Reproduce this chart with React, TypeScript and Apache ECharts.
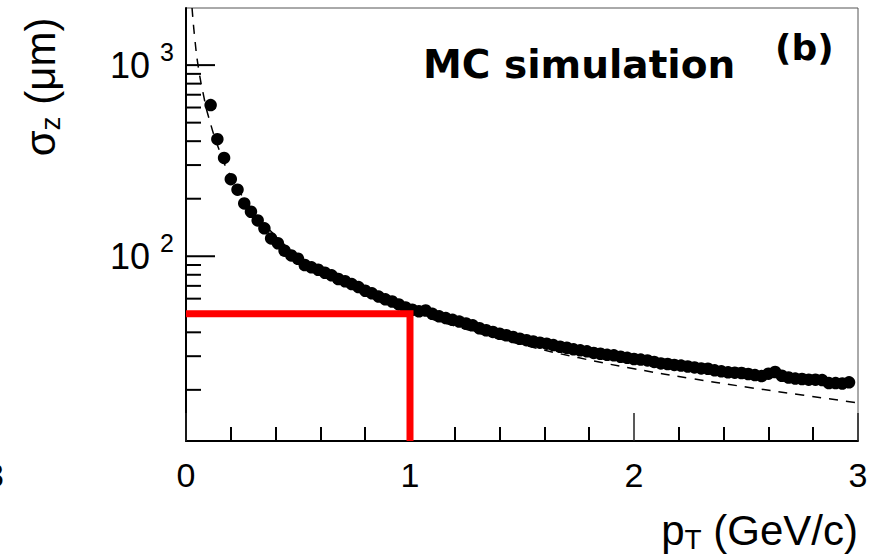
import React, { useEffect, useRef } from "react";
import * as echarts from "echarts";

// Measured points (pT in GeV/c, sigma_z in µm)
const ptValues = [
  0.11, 0.14, 0.17, 0.2, 0.23, 0.26, 0.29, 0.32, 0.35, 0.38,
  0.41, 0.44, 0.47, 0.5, 0.53, 0.56, 0.59, 0.62, 0.65, 0.68,
  0.71, 0.74, 0.77, 0.8, 0.83, 0.86, 0.89, 0.92, 0.95, 0.98,
  1.01, 1.04, 1.07, 1.1, 1.13, 1.16, 1.19, 1.22, 1.25, 1.28,
  1.31, 1.34, 1.37, 1.4, 1.43, 1.46, 1.49, 1.52, 1.55, 1.58,
  1.61, 1.64, 1.67, 1.7, 1.73, 1.76, 1.79, 1.82, 1.85, 1.88,
  1.91, 1.94, 1.97, 2.0, 2.03, 2.06, 2.09, 2.12, 2.15, 2.18,
  2.21, 2.24, 2.27, 2.3, 2.33, 2.36, 2.39, 2.42, 2.45, 2.48,
  2.51, 2.54, 2.57, 2.6, 2.63, 2.66, 2.69, 2.72, 2.75, 2.78,
  2.81, 2.84, 2.87, 2.9, 2.93, 2.96,
];
const sigmaValues = [
  618, 410, 327, 253, 223, 189, 171, 154, 140, 124,
  117, 107, 101, 97, 90, 87.5, 85, 82, 79.5, 76,
  74, 71.5, 69, 66, 64, 61.5, 59.5, 58, 56, 54,
  52.5, 51.5, 52, 50, 48.5, 47.5, 46.5, 45.5, 44.5, 43.5,
  42, 41, 40.2, 39.3, 38.6, 37.8, 37, 36.4, 35.8, 35.3,
  34.9, 34.3, 33.6, 33.2, 32.6, 32.2, 31.8, 31.2, 30.9, 30.5,
  30.3, 29.8, 29.4, 29.0, 28.8, 28.5, 28.0, 27.5, 27.3, 27.0,
  26.8, 26.5, 26.2, 25.9, 25.8, 25.3, 25.0, 24.7, 24.6, 24.5,
  24.2, 23.9, 23.6, 24.3, 24.8, 23.7, 23.2, 22.9, 22.8, 22.6,
  22.6, 22.5, 21.7, 21.7, 21.6, 21.9,
];

// Dashed reference curve
const curvePt = [0.027, 0.04, 0.056, 0.08, 0.1, 0.15, 0.2, 0.3, 0.4, 0.5, 0.75, 1.0, 1.25, 1.5, 1.75, 2.0, 2.25, 2.5, 2.75, 3.0];
const curveSigma = [1990, 1350, 960, 680, 540, 355, 262, 172, 128, 101, 68, 51.5, 41.5, 34.5, 29.5, 25.8, 23.0, 20.7, 18.8, 17.1];

// Red marker lines
const redLinePt = [0, 1, 1];
const redLineSigma = [50, 50, 10.8];

// Axis ranges and ticks
const xMin = 0;
const xMax = 3;
const yMin = 10.8;
const yMax = 1990;
const yMajorTicks = [100, 1000];
const yMinorTicks = [20, 30, 40, 50, 60, 70, 80, 90, 200, 300, 400, 500, 600, 700, 800, 900];

const FONT = "'Liberation Sans', Arial, sans-serif";

export default function App() {
  const ref = useRef<HTMLDivElement>(null);

  useEffect(() => {
    if (!ref.current) return;
    const chart = echarts.init(ref.current, null, { renderer: "svg" });

    const tickData = [
      ...yMajorTicks.map((v) => [0, v, 29]),
      ...yMinorTicks.map((v) => [0, v, 15]),
    ];

    chart.setOption({
      animation: false,
      backgroundColor: "#ffffff",
      grid: {
        left: 186,
        right: 22,
        top: 8,
        bottom: 119,
        show: true,
        borderColor: "#555",
        borderWidth: 1,
        backgroundColor: "transparent",
      },
      xAxis: {
        type: "value",
        min: xMin,
        max: xMax,
        interval: 1,
        axisLine: { show: true, onZero: false, lineStyle: { color: "#000", width: 2 } },
        axisTick: { show: true, inside: true, length: 28, lineStyle: { color: "#222", width: 1.5 } },
        minorTick: { show: true, splitNumber: 5, length: 14, lineStyle: { color: "#000", width: 2 } },
        splitLine: { show: false },
        axisLabel: { color: "#000", fontSize: 34, fontFamily: FONT, margin: 17 },
      },
      yAxis: {
        type: "log",
        logBase: 10,
        min: yMin,
        max: yMax,
        axisLine: { show: true, lineStyle: { color: "#000", width: 2 } },
        axisTick: { show: false },
        minorTick: { show: false },
        splitLine: { show: false },
        axisLabel: {
          margin: 12,
          formatter: (v: number) => {
            const l = Math.log10(v);
            if (Math.abs(l - Math.round(l)) > 1e-6) return "";
            return `{b|10}{s|${Math.round(l)}}`;
          },
          rich: {
            b: { fontSize: 36, fontFamily: FONT, color: "#000", lineHeight: 52, verticalAlign: "middle" },
            s: { fontSize: 25, fontFamily: FONT, color: "#000", lineHeight: 25, verticalAlign: "top", padding: [0, 0, 0, 10] },
          },
        },
      },
      series: [
        {
          type: "custom",
          name: "yticks",
          silent: true,
          data: tickData,
          renderItem: (params: any, api: any) => {
            const p = api.coord([api.value(0), api.value(1)]);
            const len = api.value(2);
            return {
              type: "line",
              shape: { x1: p[0], y1: p[1], x2: p[0] + len, y2: p[1] },
              style: { stroke: "#000", lineWidth: 2 },
            };
          },
          z: 3,
        },
        {
          type: "line",
          name: "fit",
          data: curvePt.map((x, i) => [x, curveSigma[i]]),
          showSymbol: false,
          smooth: true,
          lineStyle: { color: "#000", width: 1.5, type: [9, 8] },
          z: 2,
        },
        {
          type: "scatter",
          name: "MC",
          data: ptValues.map((x, i) => [x, sigmaValues[i]]),
          symbol: "circle",
          symbolSize: 12.5,
          itemStyle: { color: "#000", opacity: 1 },
          z: 4,
        },
        {
          type: "line",
          name: "cut",
          data: redLinePt.map((x, i) => [x, redLineSigma[i]]),
          showSymbol: false,
          lineStyle: { color: "#ff0000", width: 7, join: "miter", cap: "butt" },
          z: 5,
        },
      ],
      graphic: [
        {
          type: "text",
          x: 40,
          y: 87,
          rotation: Math.PI / 2,
          style: {
            text: "{a|σ}{sub|z}{a| (μm)}",
            align: "center",
            verticalAlign: "middle",
            fill: "#000",
            rich: {
              a: { fontSize: 42, fontFamily: FONT, fill: "#000", lineHeight: 48, verticalAlign: "middle" },
              sub: { fontSize: 28, fontFamily: FONT, fill: "#000", lineHeight: 28, verticalAlign: "bottom" },
            },
          },
        },
        {
          type: "text",
          x: 858,
          y: 530,
          style: {
            text: "{a|p}{sub|T}{a| (GeV/c)}",
            align: "right",
            verticalAlign: "middle",
            fill: "#000",
            rich: {
              a: { fontSize: 42, fontFamily: FONT, fill: "#000", lineHeight: 46, verticalAlign: "middle" },
              sub: { fontSize: 28, fontFamily: FONT, fill: "#000", lineHeight: 28, verticalAlign: "bottom" },
            },
          },
        },
        {
          type: "text",
          x: 423,
          y: 64,
          style: {
            text: "MC simulation",
            fontSize: 39,
            fontWeight: "bold",
            fontFamily: "'DejaVu Sans', sans-serif",
            fill: "#000",
            align: "left",
            verticalAlign: "middle",
          },
        },
        {
          type: "text",
          x: 775,
          y: 47,
          style: {
            text: "(b)",
            fontSize: 36,
            fontWeight: "bold",
            fontFamily: "'DejaVu Sans', sans-serif",
            fill: "#000",
            align: "left",
            verticalAlign: "middle",
          },
        },
        {
          type: "text",
          x: 4,
          y: 475,
          style: {
            text: "3",
            fontSize: 34,
            fontFamily: FONT,
            fill: "#000",
            align: "right",
            verticalAlign: "middle",
          },
        },
      ],
    });

    return () => chart.dispose();
  }, []);

  return (
    <div
      ref={ref}
      style={{ position: "fixed", left: 0, top: 0, width: 880, height: 560, background: "#fff" }}
    />
  );
}
